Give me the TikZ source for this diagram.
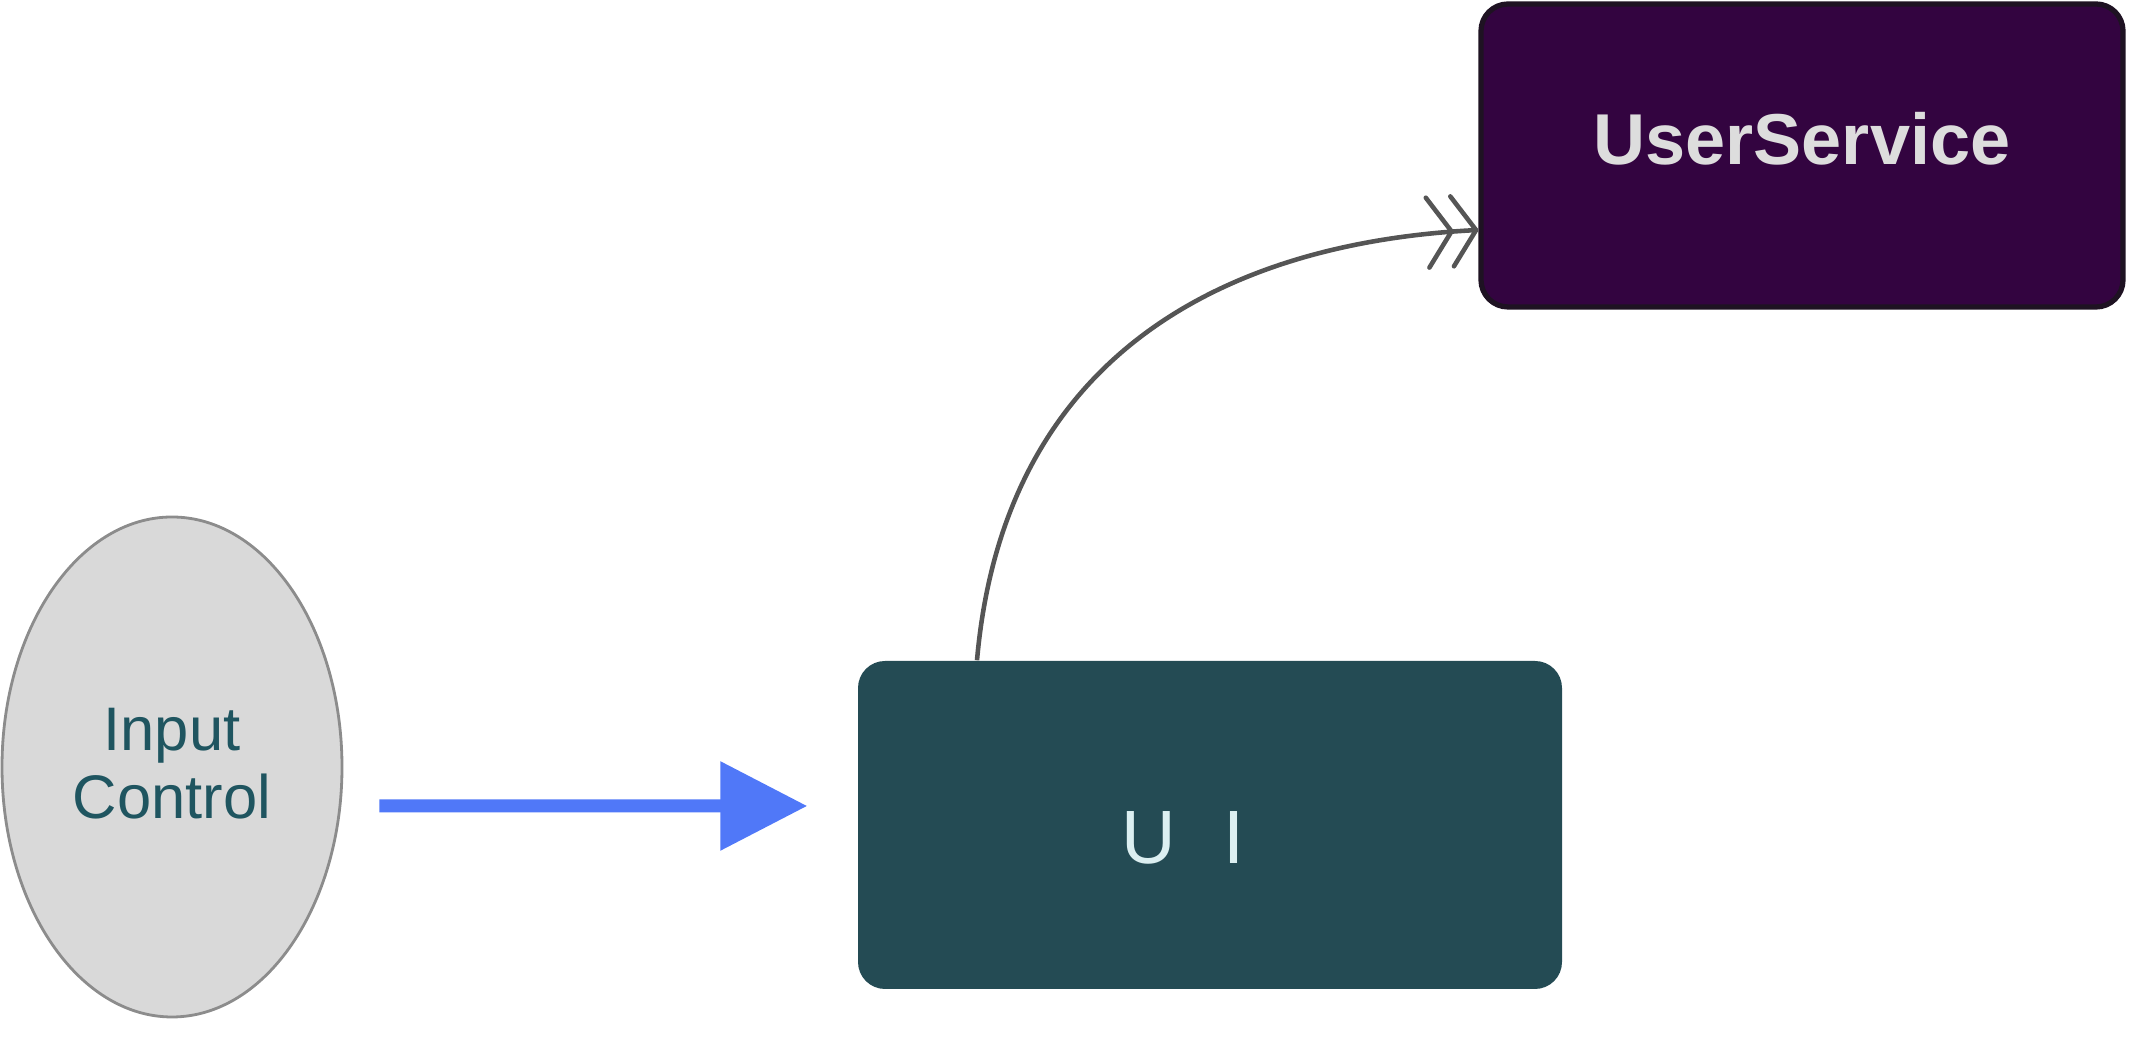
\documentclass[tikz,border=0pt]{standalone}
\usepackage{fontspec}
\setmainfont{Liberation Sans}
\usetikzlibrary{shapes.geometric, positioning, arrows.meta, calc}

\definecolor{inputfill}{HTML}{D9D9D9}
\definecolor{inputline}{HTML}{8C8C8C}
\definecolor{inputtext}{HTML}{1F5560}
\definecolor{uifill}{HTML}{244B54}
\definecolor{uitext}{HTML}{DCEFF1}
\definecolor{svcfill}{HTML}{330440}
\definecolor{svcline}{HTML}{1E1222}
\definecolor{svctext}{HTML}{DDDDDD}
\definecolor{flowblue}{HTML}{5078F8}
\definecolor{callgray}{HTML}{555555}

\begin{document}
\begin{tikzpicture}[
    inputnode/.style={
        ellipse,
        draw=inputline,
        line width=0.8pt,
        fill=inputfill,
        minimum width=3.4cm,
        minimum height=5cm,
        inner sep=0pt,
        align=center,
        text=inputtext,
        font=\fontsize{17.5pt}{20.8pt}\selectfont
    },
    uinode/.style={
        rectangle,
        rounded corners=2.7mm,
        fill=uifill,
        minimum width=7.04cm,
        minimum height=3.28cm
    },
    uilabel/.style={
        inner sep=0pt,
        text=uitext,
        font=\fontsize{21.5pt}{26pt}\selectfont\addfontfeatures{LetterSpace=64}
    },
    svcnode/.style={
        rectangle,
        rounded corners=2.7mm,
        fill=svcfill,
        draw=svcline,
        line width=1.5pt,
        minimum width=6.42cm,
        minimum height=3.03cm,
        text depth=3.5mm,
        text=svctext,
        font=\fontsize{20.5pt}{25pt}\selectfont\bfseries
    },
    flowarrow/.style={
        -{Triangle[length=8.7mm,width=8.6mm]},
        line width=1.3mm,
        flowblue
    },
    callarrow/.style={
        -{Straight Barb[round,length=2.4mm,width=7mm,sep=-0.4mm]Straight Barb[round,length=2.4mm,width=7mm]},
        line width=1.3pt,
        callgray
    }
]
    \useasboundingbox (0,0) rectangle (21.3,10.46);

    % Nodes
    \node[inputnode] (input) at (1.72,2.79) {\raisebox{0.7mm}{\shortstack{Input\\Control}}};
    \node[uinode] (ui) at (12.10,2.21) {};
    \node[uilabel] (uitext) at ([xshift=-2.7mm,yshift=-1.3mm]ui.center) {UI};
    \node[svcnode] (svc) at (18.02,8.905) {UserService};

    % Input Control -> UI
    \draw[flowarrow] ([xshift=3.6mm,yshift=-3.9mm]input.east) -- ([xshift=-5mm,yshift=1.9mm]ui.west);

    % UI -> UserService
    \draw[callarrow] ([xshift=-23.3mm]ui.north) to[out=85,in=183,out looseness=1.17,in looseness=1.01] ([yshift=-7.45mm]svc.west);

\end{tikzpicture}
\end{document}
